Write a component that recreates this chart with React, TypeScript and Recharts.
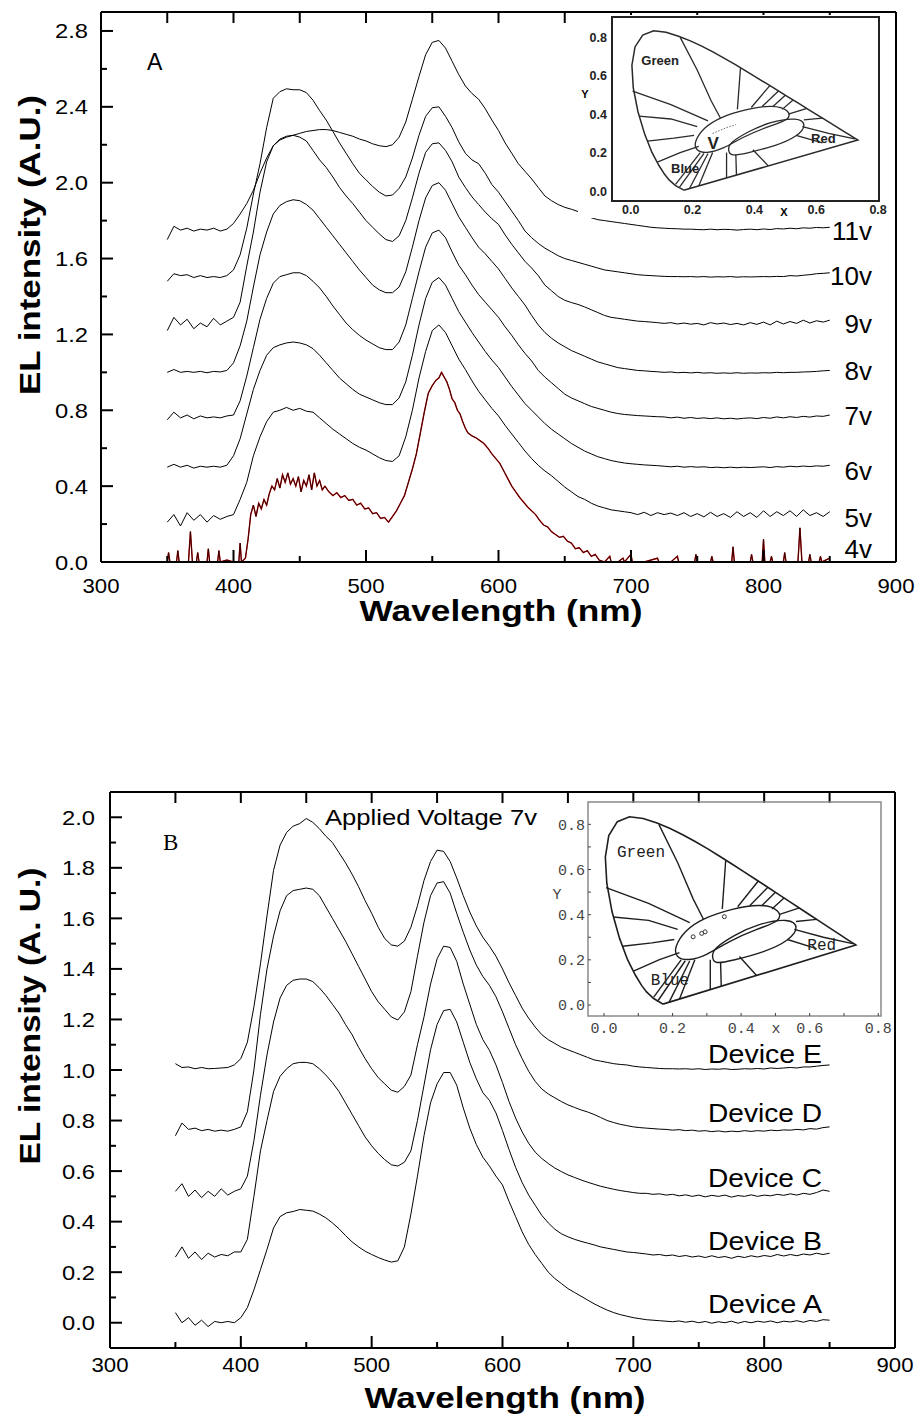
import React from "react";
import { LineChart, Line, XAxis, YAxis, ReferenceArea, ReferenceDot } from "recharts";

const SANS = "'Liberation Sans', Arial, Helvetica, sans-serif";
const SERIF = "'Liberation Serif', 'Times New Roman', serif";
const MONO = "'Liberation Mono', 'Courier New', monospace";

// ---------------- shared wavelength grid (nm) ----------------
const wavelengths = [
  350, 355, 360, 365, 370, 375, 380, 385, 390, 395,
  400, 405, 410, 415, 420, 425, 430, 435, 440, 445,
  450, 455, 460, 465, 470, 475, 480, 485, 490, 495,
  500, 505, 510, 515, 520, 525, 530, 535, 540, 545,
  550, 555, 560, 565, 570, 575, 580, 585, 590, 595,
  600, 605, 610, 615, 620, 625, 630, 635, 640, 645,
  650, 655, 660, 665, 670, 675, 680, 685, 690, 695,
  700, 705, 710, 715, 720, 725, 730, 735, 740, 745,
  750, 755, 760, 765, 770, 775, 780, 785, 790, 795,
  800, 805, 810, 815, 820, 825, 830, 835, 840, 845,
  850,
];

// ---------------- Panel A : EL spectra vs. applied voltage ----------------
const el11v = [
  1.70, 1.77, 1.75, 1.76, 1.745, 1.755, 1.75, 1.76, 1.745, 1.755,
  1.785, 1.835, 1.89, 1.96, 2.05, 2.13, 2.195, 2.225, 2.24, 2.25,
  2.26, 2.27, 2.275, 2.28, 2.28, 2.275, 2.265, 2.255, 2.245, 2.23,
  2.22, 2.205, 2.195, 2.19, 2.20, 2.24, 2.32, 2.44, 2.56, 2.675,
  2.74, 2.75, 2.71, 2.64, 2.57, 2.51, 2.47, 2.44, 2.39, 2.33,
  2.275, 2.21, 2.155, 2.10, 2.06, 2.02, 1.975, 1.93, 1.905, 1.885,
  1.87, 1.86, 1.848, 1.83, 1.815, 1.805, 1.80, 1.795, 1.79, 1.785,
  1.78, 1.775, 1.77, 1.765, 1.762, 1.76, 1.758, 1.757, 1.755, 1.755,
  1.753, 1.752, 1.755, 1.752, 1.754, 1.753, 1.75, 1.753, 1.755, 1.752,
  1.756, 1.753, 1.758, 1.756, 1.76, 1.757, 1.762, 1.76, 1.764, 1.762,
  1.765,
];
const el10v = [
  1.48, 1.52, 1.51, 1.515, 1.50, 1.51, 1.50, 1.505, 1.50, 1.51,
  1.54, 1.62, 1.76, 1.94, 2.10, 2.29, 2.445, 2.48, 2.495, 2.49,
  2.49, 2.475, 2.435, 2.38, 2.33, 2.27, 2.21, 2.155, 2.10, 2.05,
  2.015, 1.98, 1.95, 1.93, 1.935, 1.97, 2.03, 2.13, 2.25, 2.35,
  2.395, 2.40, 2.35, 2.29, 2.215, 2.155, 2.12, 2.10, 2.05, 1.99,
  1.95, 1.90, 1.85, 1.80, 1.745, 1.71, 1.68, 1.655, 1.635, 1.615,
  1.60, 1.59, 1.58, 1.57, 1.56, 1.55, 1.54, 1.535, 1.53, 1.525,
  1.52, 1.515, 1.512, 1.51, 1.508, 1.506, 1.505, 1.505, 1.504, 1.505,
  1.503, 1.505, 1.502, 1.504, 1.503, 1.505, 1.502, 1.504, 1.503, 1.504,
  1.505, 1.504, 1.506, 1.505, 1.51, 1.508, 1.512, 1.515, 1.52, 1.522,
  1.525,
];
const el9v = [
  1.22, 1.29, 1.25, 1.28, 1.23, 1.26, 1.24, 1.285, 1.25, 1.27,
  1.29, 1.37, 1.56, 1.74, 1.95, 2.11, 2.195, 2.23, 2.245, 2.25,
  2.24, 2.22, 2.17, 2.12, 2.08, 2.03, 1.975, 1.93, 1.89, 1.845,
  1.80, 1.765, 1.73, 1.70, 1.69, 1.72, 1.80, 1.92, 2.05, 2.16,
  2.205, 2.21, 2.17, 2.11, 2.03, 1.975, 1.925, 1.885, 1.845, 1.81,
  1.78, 1.725, 1.675, 1.63, 1.585, 1.55, 1.51, 1.46, 1.43, 1.40,
  1.38, 1.368, 1.358, 1.345, 1.33, 1.315, 1.30, 1.29, 1.285, 1.28,
  1.275, 1.27, 1.268, 1.265, 1.262, 1.258, 1.262, 1.255, 1.26, 1.254,
  1.258, 1.25, 1.262, 1.255, 1.26, 1.252, 1.258, 1.25, 1.262, 1.253,
  1.265, 1.25, 1.27, 1.255, 1.268, 1.258, 1.275, 1.26, 1.272, 1.265,
  1.275,
];
const el8v = [
  1.00, 1.015, 1.0, 1.005, 1.0, 1.005, 0.998, 1.005, 1.002, 1.01,
  1.05, 1.14, 1.27, 1.45, 1.62, 1.74, 1.835, 1.88, 1.90, 1.91,
  1.905, 1.885, 1.855, 1.81, 1.765, 1.72, 1.675, 1.63, 1.585, 1.54,
  1.50, 1.46, 1.435, 1.42, 1.42, 1.45, 1.53, 1.66, 1.80, 1.92,
  1.985, 2.00, 1.96, 1.89, 1.82, 1.765, 1.71, 1.66, 1.625, 1.585,
  1.545, 1.495, 1.445, 1.40, 1.355, 1.30, 1.25, 1.21, 1.18, 1.155,
  1.135, 1.115, 1.10, 1.085, 1.07, 1.055, 1.045, 1.035, 1.025, 1.02,
  1.015, 1.01, 1.008, 1.005, 1.003, 1.0, 1.002, 0.998, 1.0, 0.997,
  1.0, 0.996, 0.998, 0.995, 0.997, 0.995, 0.998, 0.995, 0.997, 0.996,
  0.998, 0.997, 1.0, 0.998, 1.0, 1.0, 1.002, 1.003, 1.005, 1.008,
  1.01,
];
const el7v = [
  0.75, 0.79, 0.76, 0.775, 0.755, 0.77, 0.76, 0.765, 0.76, 0.77,
  0.775, 0.85, 0.98, 1.13, 1.28, 1.39, 1.47, 1.505, 1.515, 1.525,
  1.525, 1.51, 1.48, 1.445, 1.40, 1.35, 1.305, 1.26, 1.225, 1.195,
  1.17, 1.15, 1.13, 1.12, 1.12, 1.16, 1.25, 1.39, 1.53, 1.66,
  1.735, 1.75, 1.71, 1.635, 1.565, 1.515, 1.46, 1.41, 1.37, 1.33,
  1.29, 1.24, 1.195, 1.145, 1.10, 1.06, 1.01, 0.975, 0.945, 0.915,
  0.885, 0.865, 0.85, 0.835, 0.82, 0.81, 0.80, 0.79, 0.783, 0.778,
  0.775, 0.772, 0.77, 0.768, 0.766, 0.765, 0.76, 0.764, 0.758, 0.762,
  0.757, 0.76, 0.756, 0.76, 0.755, 0.758, 0.754, 0.758, 0.76, 0.756,
  0.762, 0.758, 0.765, 0.76, 0.766, 0.762, 0.768, 0.764, 0.77, 0.768,
  0.775,
];
const el6v = [
  0.50, 0.515, 0.50, 0.51, 0.495, 0.505, 0.50, 0.505, 0.50, 0.51,
  0.56, 0.65, 0.78, 0.91, 1.01, 1.09, 1.13, 1.145, 1.155, 1.16,
  1.155, 1.145, 1.125, 1.09, 1.05, 1.01, 0.97, 0.94, 0.91, 0.885,
  0.87, 0.855, 0.84, 0.83, 0.83, 0.865, 0.95, 1.09, 1.25, 1.39,
  1.475, 1.50, 1.46, 1.39, 1.32, 1.265, 1.21, 1.16, 1.11, 1.065,
  1.025, 0.975, 0.925, 0.88, 0.835, 0.80, 0.765, 0.73, 0.70, 0.675,
  0.65, 0.625, 0.605, 0.585, 0.57, 0.555, 0.545, 0.535, 0.528, 0.522,
  0.518, 0.515, 0.512, 0.51, 0.508, 0.505, 0.502, 0.505, 0.50, 0.503,
  0.50, 0.502, 0.498, 0.50, 0.497, 0.50, 0.497, 0.50, 0.498, 0.50,
  0.502, 0.498, 0.503, 0.50, 0.505, 0.502, 0.506, 0.503, 0.507, 0.505,
  0.51,
];
const el5v = [
  0.21, 0.25, 0.19, 0.26, 0.22, 0.25, 0.21, 0.245, 0.225, 0.24,
  0.25, 0.33, 0.42, 0.56, 0.66, 0.74, 0.79, 0.80, 0.815, 0.80,
  0.81, 0.795, 0.79, 0.76, 0.73, 0.70, 0.675, 0.65, 0.625, 0.605,
  0.59, 0.57, 0.55, 0.535, 0.53, 0.56, 0.66, 0.80, 0.97, 1.11,
  1.22, 1.25, 1.21, 1.14, 1.07, 1.015, 0.955, 0.90, 0.855, 0.81,
  0.77, 0.72, 0.675, 0.63, 0.585, 0.545, 0.51, 0.48, 0.455, 0.425,
  0.395, 0.37, 0.345, 0.33, 0.31, 0.295, 0.285, 0.275, 0.27, 0.265,
  0.26, 0.25, 0.262, 0.245, 0.26, 0.25, 0.258, 0.245, 0.26, 0.24,
  0.255, 0.238, 0.262, 0.24, 0.255, 0.235, 0.265, 0.24, 0.26, 0.235,
  0.27, 0.24, 0.265, 0.245, 0.27, 0.24, 0.275, 0.245, 0.26, 0.24,
  0.265,
];
// 4v: own (irregular) wavelength sampling, spiky noisy trace
const wavelengths4v = [
  350, 351, 352, 357, 358, 359, 366, 367.5, 369, 372, 373, 374, 380, 381, 382, 388, 389, 390, 395, 400, 404, 405, 406, 409,
  411, 413, 415, 417, 419, 421, 423, 425, 427, 429, 431, 433, 435, 437, 439, 441, 443, 445, 447, 449, 451, 453, 455, 457, 459, 461, 463, 465, 467, 469,
  472, 475, 478, 481, 484, 487, 490, 493, 496, 499, 502, 505, 508, 511, 514, 517, 520, 523, 526, 529, 532, 535, 538, 541, 544, 547, 550, 553,
  555, 557, 559, 561, 563, 565, 567, 569, 571, 573, 575, 577,
  580, 583, 586, 589, 592, 595, 598, 601, 604, 607, 610, 613, 616, 619, 622, 625, 628, 631, 634, 637, 640, 643, 646, 649, 652, 655, 658, 661, 664, 667, 670, 673, 676,
  680, 684, 685, 690, 694, 695, 700, 701, 710, 720, 721, 730, 735, 736, 748, 749, 750, 760, 761, 762, 776, 777, 778, 790, 791, 792, 799, 800, 801, 805, 806, 807, 815, 816, 817, 826, 827.5, 829, 834, 835, 836, 842, 843, 844, 850,
];
const el4v = [
  0, 0.05, 0, 0, 0.06, 0, 0, 0.16, 0, 0, 0.05, 0, 0, 0.07, 0, 0, 0.06, 0, 0.01, 0, 0, 0.1, 0, 0.02,
  0.12, 0.25, 0.30, 0.24, 0.31, 0.28, 0.33, 0.30, 0.36, 0.40, 0.38, 0.44, 0.39, 0.46, 0.42, 0.47, 0.41, 0.44, 0.40, 0.45, 0.37, 0.43, 0.40, 0.46, 0.38, 0.47, 0.40, 0.43, 0.38, 0.40,
  0.37, 0.35, 0.365, 0.34, 0.35, 0.325, 0.33, 0.30, 0.31, 0.28, 0.285, 0.255, 0.26, 0.23, 0.235, 0.21, 0.24, 0.27, 0.31, 0.35, 0.42, 0.49, 0.57, 0.68, 0.79, 0.89, 0.93, 0.96,
  0.97, 1.0, 0.975, 0.95, 0.91, 0.86, 0.84, 0.80, 0.78, 0.74, 0.705, 0.68,
  0.665, 0.655, 0.64, 0.625, 0.60, 0.57, 0.545, 0.52, 0.48, 0.44, 0.40, 0.37, 0.34, 0.315, 0.29, 0.27, 0.25, 0.22, 0.195, 0.185, 0.16, 0.145, 0.13, 0.135, 0.11, 0.10, 0.07, 0.075, 0.05, 0.06, 0.03, 0.04, 0.01,
  0, 0.03, 0, 0, 0.02, 0, 0.04, 0, 0, 0.02, 0, 0, 0.03, 0, 0, 0.04, 0, 0, 0.03, 0, 0, 0.08, 0, 0, 0.04, 0, 0, 0.12, 0, 0, 0.03, 0, 0, 0.05, 0, 0, 0.18, 0, 0, 0.04, 0, 0, 0.03, 0, 0.02,
];
const voltageLabels = ["11v", "10v", "9v", "8v", "7v", "6v", "5v", "4v"];

// ---------------- Panel B : devices A-E at 7 V ----------------
const devE = [
  1.025, 1.01, 1.012, 1.005, 1.01, 1.005, 1.006, 1.008, 1.01, 1.02,
  1.045, 1.11, 1.25, 1.42, 1.61, 1.79, 1.89, 1.94, 1.965, 1.975,
  1.995, 1.98, 1.955, 1.925, 1.90, 1.86, 1.82, 1.775, 1.725, 1.67,
  1.62, 1.565, 1.52, 1.495, 1.49, 1.51, 1.565, 1.65, 1.75, 1.825,
  1.87, 1.865, 1.825, 1.76, 1.69, 1.625, 1.57, 1.525, 1.49, 1.45,
  1.40, 1.345, 1.295, 1.245, 1.205, 1.17, 1.14, 1.12, 1.105, 1.09,
  1.08, 1.07, 1.06, 1.05, 1.04, 1.035, 1.03, 1.025, 1.022, 1.02,
  1.015, 1.012, 1.01, 1.008, 1.006, 1.005, 1.005, 1.004, 1.005, 1.003,
  1.005, 1.002, 1.004, 1.003, 1.005, 1.002, 1.003, 1.005, 1.004, 1.006,
  1.004, 1.008, 1.006, 1.008, 1.01, 1.008, 1.012, 1.012, 1.015, 1.018,
  1.02,
];
const devD = [
  0.74, 0.79, 0.765, 0.77, 0.76, 0.765, 0.758, 0.762, 0.758, 0.765,
  0.775, 0.835, 1.00, 1.22, 1.40, 1.53, 1.63, 1.69, 1.71, 1.715,
  1.72, 1.715, 1.69, 1.645, 1.60, 1.555, 1.51, 1.46, 1.41, 1.36,
  1.31, 1.27, 1.24, 1.21, 1.198, 1.23, 1.31, 1.45, 1.585, 1.69,
  1.74, 1.745, 1.70, 1.62, 1.545, 1.475, 1.415, 1.37, 1.335, 1.29,
  1.23, 1.165, 1.10, 1.045, 0.995, 0.955, 0.925, 0.905, 0.89, 0.875,
  0.862, 0.852, 0.842, 0.834, 0.824, 0.812, 0.80, 0.792, 0.785, 0.78,
  0.775, 0.772, 0.77, 0.768, 0.766, 0.765, 0.762, 0.764, 0.76, 0.762,
  0.758, 0.76, 0.756, 0.759, 0.755, 0.758, 0.756, 0.76, 0.757, 0.76,
  0.758, 0.762, 0.76, 0.763, 0.762, 0.765, 0.763, 0.768, 0.766, 0.772,
  0.775,
];
const devC = [
  0.52, 0.55, 0.50, 0.525, 0.495, 0.52, 0.50, 0.53, 0.505, 0.52,
  0.53, 0.58, 0.72, 0.90, 1.06, 1.19, 1.285, 1.335, 1.355, 1.36,
  1.36, 1.35, 1.325, 1.295, 1.26, 1.225, 1.18, 1.14, 1.09, 1.045,
  1.005, 0.97, 0.945, 0.92, 0.912, 0.935, 0.98, 1.10, 1.21, 1.34,
  1.44, 1.49, 1.485, 1.43, 1.34, 1.26, 1.18, 1.12, 1.078, 1.02,
  0.95, 0.875, 0.81, 0.755, 0.71, 0.675, 0.65, 0.63, 0.612, 0.598,
  0.585, 0.575, 0.565, 0.556, 0.548, 0.54, 0.534, 0.528, 0.523, 0.519,
  0.515, 0.512, 0.512, 0.508, 0.51, 0.505, 0.508, 0.502, 0.506, 0.50,
  0.505, 0.498, 0.504, 0.50, 0.505, 0.497, 0.503, 0.50, 0.506, 0.50,
  0.505, 0.502, 0.508, 0.504, 0.51, 0.505, 0.512, 0.508, 0.515, 0.525,
  0.52,
];
const devB = [
  0.26, 0.30, 0.255, 0.28, 0.25, 0.275, 0.26, 0.27, 0.265, 0.28,
  0.28, 0.33, 0.50, 0.68, 0.80, 0.915, 0.975, 1.005, 1.025, 1.03,
  1.03, 1.025, 1.005, 0.98, 0.95, 0.915, 0.87, 0.825, 0.78, 0.735,
  0.70, 0.67, 0.645, 0.625, 0.62, 0.635, 0.68, 0.80, 0.94, 1.08,
  1.18, 1.235, 1.24, 1.19, 1.11, 1.03, 0.965, 0.91, 0.88, 0.83,
  0.76, 0.685, 0.615, 0.555, 0.505, 0.465, 0.425, 0.395, 0.37, 0.352,
  0.34, 0.33, 0.322, 0.315, 0.308, 0.30, 0.295, 0.29, 0.285, 0.28,
  0.278, 0.275, 0.272, 0.268, 0.27, 0.265, 0.268, 0.262, 0.266, 0.26,
  0.264, 0.258, 0.265, 0.258, 0.262, 0.255, 0.263, 0.258, 0.265, 0.26,
  0.266, 0.262, 0.27, 0.264, 0.27, 0.265, 0.272, 0.268, 0.275, 0.27,
  0.275,
];
const devA = [
  0.04, 0.0, 0.02, -0.01, 0.01, -0.015, 0.005, 0.0, 0.005, 0.0,
  0.02, 0.06, 0.13, 0.21, 0.29, 0.375, 0.42, 0.435, 0.44, 0.448,
  0.445, 0.442, 0.43, 0.415, 0.395, 0.372, 0.345, 0.32, 0.30, 0.283,
  0.27, 0.258, 0.248, 0.24, 0.245, 0.30, 0.43, 0.58, 0.74, 0.87,
  0.945, 0.99, 0.99, 0.94, 0.85, 0.77, 0.705, 0.655, 0.62, 0.58,
  0.545, 0.48, 0.42, 0.36, 0.31, 0.27, 0.235, 0.20, 0.175, 0.155,
  0.135, 0.12, 0.105, 0.09, 0.075, 0.062, 0.05, 0.04, 0.032, 0.026,
  0.02, 0.016, 0.012, 0.01, 0.008, 0.006, 0.004, 0.007, 0.002, 0.006,
  0.0, 0.005, -0.002, 0.004, 0.0, 0.006, -0.002, 0.005, 0.0, 0.006,
  0.002, 0.007, 0.0, 0.006, 0.003, 0.008, 0.002, 0.009, 0.005, 0.012,
  0.01,
];
const deviceLabels = ["Device E", "Device D", "Device C", "Device B", "Device A"];

// ---------------- axis ticks ----------------
const xTicksBottom = [300, 350, 400, 450, 500, 550, 600, 650, 700, 750, 800, 850, 900];
const xMajor = [300, 400, 500, 600, 700, 800, 900];
const xTicksTop = [350, 400, 450, 500, 550, 600, 650, 700, 750, 800, 850];
const yTicksA = [0, 0.2, 0.4, 0.6, 0.8, 1.0, 1.2, 1.4, 1.6, 1.8, 2.0, 2.2, 2.4, 2.6, 2.8];
const yMajorA = [0, 0.4, 0.8, 1.2, 1.6, 2.0, 2.4, 2.8];
const yTicksB = [0, 0.1, 0.2, 0.3, 0.4, 0.5, 0.6, 0.7, 0.8, 0.9, 1.0, 1.1, 1.2, 1.3, 1.4, 1.5, 1.6, 1.7, 1.8, 1.9, 2.0];
const yMajorB = [0, 0.2, 0.4, 0.6, 0.8, 1.0, 1.2, 1.4, 1.6, 1.8, 2.0];

// ---------------- CIE inset data ----------------
const locusX = [0.1741, 0.1733, 0.1714, 0.1689, 0.1644, 0.1566, 0.1440, 0.1241, 0.1096, 0.0913, 0.0687, 0.0454, 0.0235, 0.0082, 0.0039, 0.0139, 0.0389, 0.0743, 0.1142, 0.1547, 0.1929, 0.2296, 0.2658, 0.3016, 0.3373, 0.3731, 0.4087, 0.4441, 0.4788, 0.5125, 0.5448, 0.5752, 0.6029, 0.6270, 0.6658, 0.6915, 0.7079, 0.7190, 0.7300, 0.7347, 0.1741];
const locusY = [0.0050, 0.0048, 0.0051, 0.0069, 0.0109, 0.0177, 0.0297, 0.0578, 0.0868, 0.1327, 0.2007, 0.2950, 0.4127, 0.5384, 0.6548, 0.7502, 0.8120, 0.8338, 0.8262, 0.8059, 0.7816, 0.7543, 0.7243, 0.6923, 0.6589, 0.6245, 0.5896, 0.5547, 0.5202, 0.4866, 0.4544, 0.4242, 0.3965, 0.3725, 0.3340, 0.3083, 0.2920, 0.2809, 0.2700, 0.2653, 0.0050];
const boundaryLines = [
  [[0.16, 0.80], [0.215, 0.63], [0.26, 0.47], [0.29, 0.38]],
  [[0.006, 0.52], [0.13, 0.45], [0.25, 0.365]],
  [[0.027, 0.39], [0.13, 0.375], [0.215, 0.335]],
  [[0.054, 0.26], [0.14, 0.275], [0.205, 0.29]],
  [[0.086, 0.15], [0.16, 0.2], [0.22, 0.232]],
  [[0.145, 0.035], [0.225, 0.2]],
  [[0.158, 0.02], [0.237, 0.196]],
  [[0.19, 0.013], [0.25, 0.195]],
  [[0.22, 0.026], [0.265, 0.2]],
  [[0.31, 0.2], [0.31, 0.068]],
  [[0.34, 0.19], [0.342, 0.083]],
  [[0.395, 0.215], [0.445, 0.131]],
  [[0.355, 0.64], [0.345, 0.425]],
  [[0.45, 0.549], [0.39, 0.435]],
  [[0.478, 0.521], [0.425, 0.44]],
  [[0.50, 0.499], [0.46, 0.44]],
  [[0.525, 0.474], [0.49, 0.425]],
  [[0.57, 0.43], [0.51, 0.40]],
  [[0.62, 0.379], [0.56, 0.37]],
  [[0.555, 0.335], [0.64, 0.30], [0.725, 0.272]],
  [[0.535, 0.29], [0.62, 0.25]],
];
const ellipse1X = [0.205, 0.235, 0.29, 0.37, 0.46, 0.515, 0.515, 0.45, 0.36, 0.30, 0.245, 0.21];
const ellipse1Y = [0.255, 0.33, 0.385, 0.425, 0.45, 0.42, 0.37, 0.34, 0.28, 0.22, 0.195, 0.21];
const ellipse2X = [0.32, 0.38, 0.45, 0.54, 0.57, 0.54, 0.47, 0.37, 0.32, 0.315];
const ellipse2Y = [0.25, 0.31, 0.36, 0.385, 0.345, 0.285, 0.235, 0.195, 0.18, 0.22];
const insetTicks = [0, 0.2, 0.4, 0.6, 0.8];
const insetTicksFine = [0, 0.1, 0.2, 0.3, 0.4, 0.5, 0.6, 0.7, 0.8];
const trailAX = [0.265, 0.28, 0.295, 0.31, 0.325, 0.34];
const trailAY = [0.30, 0.31, 0.32, 0.33, 0.338, 0.345];
const pointsBX = [0.26, 0.285, 0.295, 0.351];
const pointsBY = [0.302, 0.317, 0.324, 0.391];

// ---------------- derived tables ----------------
const rowsA = wavelengths.map((wl, i) => ({
  wl, v11: el11v[i], v10: el10v[i], v9: el9v[i], v8: el8v[i], v7: el7v[i], v6: el6v[i], v5: el5v[i],
}));
const rows4v = wavelengths4v.map((wl, i) => ({ wl, v4: el4v[i] }));
const rowsB = wavelengths.map((wl, i) => ({ wl, E: devE[i], D: devD[i], C: devC[i], B: devB[i], A: devA[i] }));
const pts = (xs: number[], ys: number[]) => xs.map((x, i) => ({ x, y: ys[i] }));
const locusPts = pts(locusX, locusY);
const ellipse1Pts = pts(ellipse1X, ellipse1Y);
const ellipse2Pts = pts(ellipse2X, ellipse2Y);
const boundaryPts = boundaryLines.map((l) => l.map(([x, y]) => ({ x, y })));
const trailAPts = pts(trailAX, trailAY);
const pointsBPts = pts(pointsBX, pointsBY);

const AXIS = { stroke: "#000", strokeWidth: 2 };
const isIn = (arr: number[], v: number) => arr.some((m) => Math.abs(m - v) < 1e-6);

// ---------------- custom ticks ----------------
function bottomTick(majors: number[], labelDy: number) {
  return function BottomTick(p: any) {
    const v = Number(p.payload.value);
    const major = isIn(majors, v);
    return (
      <g>
        <line x1={p.x} x2={p.x} y1={p.y} y2={p.y - (major ? 12 : 6)} stroke="#000" strokeWidth={2} />
        {major ? (
          <text x={p.x} y={p.y + labelDy} textAnchor="middle" fontFamily={SANS} fontSize={21} textLength={37} lengthAdjust="spacingAndGlyphs" fill="#000">
            {String(v)}
          </text>
        ) : null}
      </g>
    );
  };
}
function TopTick(p: any) {
  return <line x1={p.x} x2={p.x} y1={p.y} y2={p.y + 11} stroke="#000" strokeWidth={2} />;
}
function leftTick(majors: number[], gap: number) {
  return function LeftTick(p: any) {
    const v = Number(p.payload.value);
    const major = isIn(majors, v);
    const ax = p.x + gap;
    return (
      <g>
        <line x1={ax} x2={ax + (major ? 12 : 6)} y1={p.y} y2={p.y} stroke="#000" strokeWidth={2} />
        {major ? (
          <text x={p.x} y={p.y + 7.5} textAnchor="end" fontFamily={SANS} fontSize={21} textLength={33} lengthAdjust="spacingAndGlyphs" fill="#000">
            {v.toFixed(1)}
          </text>
        ) : null}
      </g>
    );
  };
}
function insetBottomTick(labelDy: number, font: string, fs: number, weight: string, color: string, tickLen: number) {
  return function InsetBottomTick(p: any) {
    const v = Number(p.payload.value);
    const major = isIn(insetTicks, v);
    return (
      <g>
        {tickLen > 0 ? <line x1={p.x} x2={p.x} y1={p.y} y2={p.y - tickLen} stroke={color} strokeWidth={1} /> : null}
        {major ? (
          <text x={p.x} y={p.y + labelDy} textAnchor="middle" fontFamily={font} fontSize={fs} fontWeight={weight} fill={color}>
            {v.toFixed(1)}
          </text>
        ) : null}
      </g>
    );
  };
}
function insetLeftTick(gap: number, font: string, fs: number, weight: string, color: string, tickLen: number) {
  return function InsetLeftTick(p: any) {
    const v = Number(p.payload.value);
    const major = isIn(insetTicks, v);
    const ax = p.x + gap;
    return (
      <g>
        {tickLen > 0 ? <line x1={ax} x2={ax + tickLen} y1={p.y} y2={p.y} stroke={color} strokeWidth={1} /> : null}
        {major ? (
          <text x={p.x} y={p.y + fs * 0.36} textAnchor="end" fontFamily={font} fontSize={fs} fontWeight={weight} fill={color}>
            {v.toFixed(1)}
          </text>
        ) : null}
      </g>
    );
  };
}

// ---------------- CIE inset ----------------
function CieInset({ variant }: { variant: "A" | "B" }) {
  const isA = variant === "A";
  const cfg = isA
    ? {
        left: 578, top: 15, w: 316, h: 203,
        margin: { top: 2, right: 15, bottom: 7, left: 4 },
        xd: [-0.0605, 0.803], yd: [-0.052, 0.906],
        frame: "#222", frameW: 2, line: "#2a2a2a", lineW: 1.3,
        font: SANS, fs: 12.5, weight: "bold", color: "#222", labelDy: 12.5, gap: 5, tickLen: 0,
        labelFs: 13, bg: "#fff",
      }
    : {
        left: 552, top: 800, w: 342, h: 250,
        margin: { top: 2, right: 13, bottom: 24, left: 6 },
        xd: [-0.0467, 0.808], yd: [-0.0487, 0.899],
        frame: "#8a8a8a", frameW: 1.5, line: "#1e1e1e", lineW: 1.4,
        font: MONO, fs: 15, weight: "normal", color: "#444", labelDy: 17, gap: 3, tickLen: 3,
        labelFs: 16, bg: "transparent",
      };
  const tickSet = isA ? insetTicks : insetTicksFine;
  const lbl = (value: string, fs: number) => ({
    value, position: "center" as const, fontFamily: cfg.font, fontSize: fs, fontWeight: isA ? "bold" : "normal", fill: "#222",
  });
  return (
    <div style={{ position: "absolute", left: cfg.left, top: cfg.top, width: cfg.w, height: cfg.h, background: cfg.bg }}>
      <LineChart width={cfg.w} height={cfg.h} margin={cfg.margin}>
        <XAxis type="number" dataKey="x" domain={cfg.xd} allowDataOverflow ticks={tickSet} interval={0} tickSize={0} tickMargin={0} tickLine={false} axisLine={false} height={10}
          tick={insetBottomTick(cfg.labelDy, cfg.font, cfg.fs, cfg.weight, cfg.color, cfg.tickLen)} />
        <YAxis type="number" domain={cfg.yd} allowDataOverflow ticks={tickSet} interval={0} tickSize={0} tickMargin={cfg.gap} tickLine={false} axisLine={false} width={30}
          tick={insetLeftTick(cfg.gap, cfg.font, cfg.fs, cfg.weight, cfg.color, cfg.tickLen)} />
        <ReferenceArea x1={cfg.xd[0]} x2={cfg.xd[1]} y1={cfg.yd[0]} y2={cfg.yd[1]} fill="none" fillOpacity={0} stroke={cfg.frame} strokeWidth={cfg.frameW} ifOverflow="visible" />
        <Line data={locusPts} dataKey="y" type="linear" stroke={cfg.line} strokeWidth={cfg.lineW + 0.2} dot={false} isAnimationActive={false} />
        {boundaryPts.map((seg, i) => (
          <Line key={"b" + i} data={seg} dataKey="y" type="linear" stroke={cfg.line} strokeWidth={cfg.lineW} dot={false} isAnimationActive={false} />
        ))}
        <Line data={ellipse1Pts} dataKey="y" type="basisClosed" stroke={cfg.line} strokeWidth={cfg.lineW} dot={false} isAnimationActive={false} />
        <Line data={ellipse2Pts} dataKey="y" type="basisClosed" stroke={cfg.line} strokeWidth={cfg.lineW} dot={false} isAnimationActive={false} />
        {isA ? (
          <Line data={trailAPts} dataKey="y" type="linear" stroke="#444" strokeWidth={0.8} strokeDasharray="1.5 1.5" dot={false} isAnimationActive={false} />
        ) : (
          <Line data={pointsBPts} dataKey="y" type="linear" stroke="none" dot={{ r: 2, fill: "#fff", stroke: "#333", strokeWidth: 1 }} isAnimationActive={false} />
        )}
        <ReferenceDot x={isA ? 0.095 : 0.108} y={isA ? 0.682 : 0.682} r={0} fill="none" stroke="none" label={lbl("Green", cfg.labelFs)} />
        <ReferenceDot x={isA ? 0.623 : 0.635} y={isA ? 0.274 : 0.27} r={0} fill="none" stroke="none" label={lbl("Red", cfg.labelFs)} />
        <ReferenceDot x={isA ? 0.176 : 0.1925} y={isA ? 0.118 : 0.115} r={0} fill="none" stroke="none" label={lbl("Blue", cfg.labelFs)} />
        {isA ? <ReferenceDot x={0.267} y={0.248} r={0} fill="none" stroke="none" label={lbl("V", 17)} /> : null}
      </LineChart>
    </div>
  );
}

const lineProps = { type: "linear" as const, stroke: "#000", strokeWidth: 1, dot: false, isAnimationActive: false };

export default function App() {
  return (
    <div style={{ position: "absolute", left: 0, top: 0, width: 919, height: 1425, background: "#fff", overflow: "hidden" }}>
      {/* Panel A */}
      <div style={{ position: "absolute", left: 0, top: 0 }}>
        <LineChart width={919} height={650} data={rowsA} margin={{ top: 2, right: 13, bottom: 58, left: 71 }}>
          <XAxis xAxisId="b" dataKey="wl" type="number" domain={[300, 900]} allowDataOverflow ticks={xTicksBottom} interval={0} tickSize={0} tickMargin={0} tickLine={false} axisLine={AXIS} height={30} tick={bottomTick(xMajor, 31)} />
          <XAxis xAxisId="t" orientation="top" dataKey="wl" type="number" domain={[300, 900]} allowDataOverflow ticks={xTicksTop} interval={0} tickSize={0} tickMargin={0} tickLine={false} axisLine={AXIS} height={10} tick={TopTick} />
          <YAxis yAxisId="l" type="number" domain={[0, 2.9]} allowDataOverflow ticks={yTicksA} interval={0} tickSize={0} tickMargin={13} tickLine={false} axisLine={AXIS} width={30} tick={leftTick(yMajorA, 13)} />
          <YAxis yAxisId="r" orientation="right" type="number" domain={[0, 2.9]} allowDataOverflow tick={false} tickLine={false} axisLine={AXIS} width={10} />
          <Line xAxisId="b" yAxisId="l" dataKey="v11" {...lineProps} />
          <Line xAxisId="b" yAxisId="l" dataKey="v10" {...lineProps} />
          <Line xAxisId="b" yAxisId="l" dataKey="v9" {...lineProps} />
          <Line xAxisId="b" yAxisId="l" dataKey="v8" {...lineProps} />
          <Line xAxisId="b" yAxisId="l" dataKey="v7" {...lineProps} />
          <Line xAxisId="b" yAxisId="l" dataKey="v6" {...lineProps} />
          <Line xAxisId="b" yAxisId="l" dataKey="v5" {...lineProps} />
          <Line xAxisId="b" yAxisId="l" data={rows4v} dataKey="v4" type="linear" stroke="#c00000" strokeWidth={1.4} dot={false} isAnimationActive={false} />
          <Line xAxisId="b" yAxisId="l" data={rows4v} dataKey="v4" type="linear" stroke="#1a0000" strokeWidth={0.8} dot={false} isAnimationActive={false} />
        </LineChart>
      </div>
      <CieInset variant="A" />

      {/* Panel B */}
      <div style={{ position: "absolute", left: 0, top: 780 }}>
        <LineChart width={919} height={645} data={rowsB} margin={{ top: 2, right: 14, bottom: 47, left: 80 }}>
          <XAxis xAxisId="b" dataKey="wl" type="number" domain={[300, 900]} allowDataOverflow ticks={xTicksBottom} interval={0} tickSize={0} tickMargin={0} tickLine={false} axisLine={AXIS} height={30} tick={bottomTick(xMajor, 24)} />
          <XAxis xAxisId="t" orientation="top" dataKey="wl" type="number" domain={[300, 900]} allowDataOverflow ticks={xTicksTop} interval={0} tickSize={0} tickMargin={0} tickLine={false} axisLine={AXIS} height={10} tick={TopTick} />
          <YAxis yAxisId="l" type="number" domain={[-0.1, 2.1]} allowDataOverflow ticks={yTicksB} interval={0} tickSize={0} tickMargin={15} tickLine={false} axisLine={AXIS} width={30} tick={leftTick(yMajorB, 15)} />
          <YAxis yAxisId="r" orientation="right" type="number" domain={[-0.1, 2.1]} allowDataOverflow tick={false} tickLine={false} axisLine={AXIS} width={10} />
          <Line xAxisId="b" yAxisId="l" dataKey="E" {...lineProps} />
          <Line xAxisId="b" yAxisId="l" dataKey="D" {...lineProps} />
          <Line xAxisId="b" yAxisId="l" dataKey="C" {...lineProps} />
          <Line xAxisId="b" yAxisId="l" dataKey="B" {...lineProps} />
          <Line xAxisId="b" yAxisId="l" dataKey="A" {...lineProps} />
        </LineChart>
      </div>
      <CieInset variant="B" />

      {/* text overlay */}
      <svg width={919} height={1425} style={{ position: "absolute", left: 0, top: 0, pointerEvents: "none" }}>
        <g fontFamily={SANS} fill="#000">
          <text transform="translate(40,245) rotate(-90)" textAnchor="middle" fontWeight="bold" fontSize={29} textLength={300} lengthAdjust="spacingAndGlyphs">EL intensity (A.U.)</text>
          <text x={501} y={621} textAnchor="middle" fontWeight="bold" fontSize={29} textLength={283} lengthAdjust="spacingAndGlyphs">Wavelength (nm)</text>
          <text x={147} y={70} fontSize={23}>A</text>
          {voltageLabels.map((t, i) => (
            <text key={t} x={872} y={[240, 285, 333, 380, 425, 480, 527, 558][i]} textAnchor="end" fontSize={26}>{t}</text>
          ))}
          <text x={585} y={98} textAnchor="middle" fontWeight="bold" fontSize={11}>Y</text>
          <text x={784} y={216} textAnchor="middle" fontWeight="bold" fontSize={11}>X</text>

          <text transform="translate(40,1016) rotate(-90)" textAnchor="middle" fontWeight="bold" fontSize={29} textLength={297} lengthAdjust="spacingAndGlyphs">EL intensity (A. U.)</text>
          <text x={505} y={1408} textAnchor="middle" fontWeight="bold" fontSize={29} textLength={281} lengthAdjust="spacingAndGlyphs">Wavelength (nm)</text>
          <text x={163} y={850} fontFamily={SERIF} fontSize={23}>B</text>
          <text x={325} y={825} fontSize={22} textLength={212} lengthAdjust="spacingAndGlyphs">Applied Voltage 7v</text>
          {deviceLabels.map((t, i) => (
            <text key={t} x={708} y={[1063, 1122, 1187, 1250, 1313][i]} fontSize={25} textLength={114} lengthAdjust="spacingAndGlyphs">{t}</text>
          ))}
          <text x={557} y={899} textAnchor="middle" fontFamily={MONO} fontSize={15} fill="#444">Y</text>
          <text x={776} y={1033} textAnchor="middle" fontFamily={MONO} fontSize={15} fill="#444">x</text>
        </g>
      </svg>
    </div>
  );
}
